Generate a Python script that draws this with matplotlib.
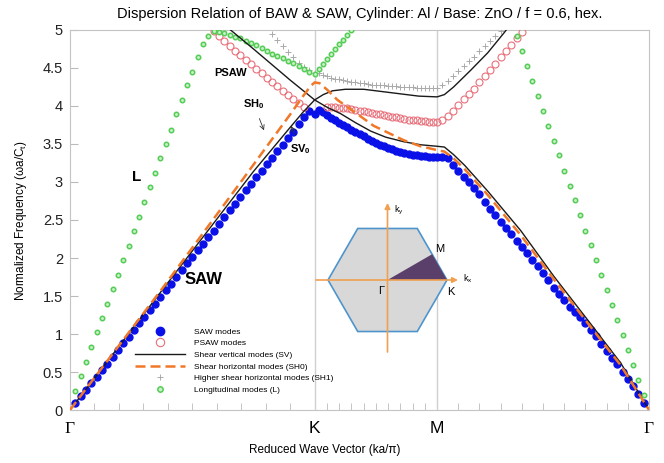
import numpy as np
import matplotlib
matplotlib.use("Agg")
import matplotlib.pyplot as plt
from matplotlib.patches import Polygon

plt.rcParams['font.family'] = ['Liberation Sans', 'DejaVu Sans']

# high-symmetry points along Gamma-K-M-Gamma (ka/pi)
K_PT = 4.0 / 3.0
M_PT = K_PT + 2.0 / 3.0
G_END = M_PT + 2.0 / np.sqrt(3.0)

# k sampling of each segment
k_gk = np.linspace(0, K_PT, 47)[1:]
k_km = np.linspace(K_PT, M_PT, 31)[1:]
k_mg = np.linspace(M_PT, G_END, 41)[1:-1]
NAN = np.nan

# SAW modes
saw_gk = [0.09, 0.18, 0.26, 0.35, 0.44, 0.53, 0.61, 0.70, 0.79, 0.88,
          0.96, 1.05, 1.14, 1.23, 1.31, 1.40, 1.49, 1.58, 1.66, 1.75,
          1.84, 1.93, 2.01, 2.10, 2.19, 2.28, 2.36, 2.45, 2.54, 2.63,
          2.71, 2.80, 2.89, 2.98, 3.06, 3.15, 3.24, 3.32, 3.41, 3.49,
          3.58, 3.66, 3.76, 3.86, 3.93, 3.90]
saw_km = [3.95, 3.92, 3.88, 3.84, 3.81, 3.78, 3.75, 3.72, 3.69, 3.66,
          3.63, 3.60, 3.57, 3.54, 3.51, 3.49, 3.47, 3.45, 3.43, 3.41,
          3.39, 3.38, 3.37, 3.36, 3.35, 3.34, 3.34, 3.33, 3.33, 3.33]
saw_mg = [3.33, 3.31, 3.22, 3.15, 3.07, 3.00, 2.92, 2.84, 2.74, 2.65,
          2.57, 2.47, 2.39, 2.31, 2.23, 2.15, 2.06, 1.98, 1.89, 1.80,
          1.71, 1.61, 1.53, 1.45, 1.36, 1.29, 1.22, 1.14, 1.05, 0.97,
          0.87, 0.78, 0.69, 0.61, 0.50, 0.41, 0.32, 0.21, 0.09]

# PSAW modes
psaw_gk = [NAN] * 26 + [4.99, 4.92, 4.85, 4.79, 4.73, 4.67, 4.61, 4.55, 4.49,
                        4.43, 4.37, 4.32, 4.26, 4.20, 4.15, 4.09, 4.04, 3.99] + [NAN] * 2
psaw_km = [NAN] * 2 + [3.99, 3.99, 3.99, 3.98, 3.98, 3.97, 3.96, 3.95, 3.94, 3.93,
                       3.92, 3.91, 3.90, 3.89, 3.88, 3.87, 3.86, 3.85, 3.84, 3.83,
                       3.82, 3.81, 3.81, 3.80, 3.80, 3.79, 3.79, 3.79]
psaw_mg = [3.81, 3.87, 3.94, 4.01, 4.09, 4.16, 4.23, 4.31, 4.39, 4.47,
           4.55, 4.64, 4.72, 4.80, 4.89, 4.97] + [NAN] * 23

# higher shear horizontal modes (SH1)
sh1_gk = [NAN] * 37 + [4.95, 4.87, 4.79, 4.71, 4.64, 4.57, 4.51, 4.47, 4.44]
sh1_km = [4.43, 4.41, 4.39, 4.37, 4.36, 4.35, 4.34, 4.33, 4.32, 4.31,
          4.30, 4.30, 4.29, 4.28, 4.28, 4.27, 4.27, 4.26, 4.26, 4.26,
          4.25, 4.25, 4.25, 4.25, 4.24, 4.24, 4.24, 4.24, 4.24, 4.24]
sh1_mg = [4.27, 4.33, 4.39, 4.46, 4.53, 4.59, 4.65, 4.72, 4.79, 4.85,
          4.92, 4.99] + [NAN] * 27

# longitudinal modes (L)
lon_gk = [0.25, 0.45, 0.63, 0.83, 1.02, 1.21, 1.40, 1.59, 1.78, 1.98,
          2.16, 2.36, 2.54, 2.74, 2.93, 3.12, 3.31, 3.50, 3.69, 3.89,
          4.08, 4.27, 4.45, 4.64, 4.81, 4.92, 4.99, 4.98, 4.96, 4.93,
          4.91, 4.89, 4.86, 4.83, 4.80, 4.76, 4.73, 4.69, 4.66, 4.63,
          4.59, 4.56, 4.52, 4.49, 4.45, 4.42]
lon_km = [4.49, 4.55, 4.62, 4.68, 4.75, 4.81, 4.87, 4.94, 5.00] + [NAN] * 21
lon_mg = [NAN] * 14 + [4.92, 4.72, 4.53, 4.33, 4.13, 3.94, 3.74, 3.54, 3.35, 3.15,
                       2.95, 2.76, 2.56, 2.36, 2.17, 1.97, 1.77, 1.58, 1.38, 1.18,
                       0.99, 0.79, 0.59, 0.40, 0.20]

# shear vertical modes (two branches), shear horizontal SH0
sv_a_k = [0, 0.5, 1.0, 1.2, 1.27, 1.333, 1.38, 1.43, 1.50, 1.60, 1.70, 1.80, 1.90,
          2.0, 2.04, 2.09, 2.183, 2.276, 2.364, 2.38]
sv_a_f = [0, 1.57, 3.14, 3.72, 3.92, 4.08, 4.15, 4.20, 4.22, 4.22, 4.19, 4.16, 4.13,
          4.12, 4.15, 4.25, 4.47, 4.70, 4.96, 5.01]
sv_b_k = [0.85, 1.0, 1.2, 1.333, 1.403, 1.474, 1.556, 1.638, 1.72, 1.818, 1.91,
          2.0, 2.04, 2.09, 2.15, 2.276, 2.456, 2.636, 2.822, 3.0, 3.155]
sv_b_f = [5.05, 4.75, 4.34, 4.08, 3.98, 3.90, 3.78, 3.67, 3.59, 3.53, 3.49,
          3.47, 3.46, 3.36, 3.22, 2.88, 2.36, 1.76, 1.18, 0.62, 0.0]
sh0_k = [0, 0.5, 0.955, 1.1, 1.2, 1.27, 1.31, 1.333, 1.36, 1.403, 1.457, 1.545,
         1.654, 1.818, 1.91, 2.0, 2.04, 2.09, 2.15, 2.276, 2.456, 2.636, 2.822, 3.0, 3.155]
sh0_f = [0, 1.59, 3.08, 3.56, 3.89, 4.13, 4.26, 4.31, 4.30, 4.21, 4.08, 3.93,
         3.74, 3.55, 3.47, 3.42, 3.40, 3.31, 3.17, 2.83, 2.30, 1.72, 1.14, 0.59, 0.0]

k_all = np.concatenate([k_gk, k_km, k_mg])
saw = np.array(saw_gk + saw_km + saw_mg)
psaw = np.array(psaw_gk + psaw_km + psaw_mg)
sh1 = np.array(sh1_gk + sh1_km + sh1_mg)
lon = np.array(lon_gk + lon_km + lon_mg)

W, H = 664, 463
fig = plt.figure(figsize=(W / 100, H / 100), dpi=100)
ax = fig.add_axes([70 / W, 1 - 410 / H, 579 / W, 380 / H])

ax.axvline(K_PT, color='#d0d0d0', lw=1, zorder=1)
ax.axvline(M_PT, color='#d0d0d0', lw=1, zorder=1)

ax.plot(k_all, saw, 'o', ms=5, color='#0a10e8', mec='#0a10e8', zorder=3, label='SAW modes')
ax.plot(k_all, psaw, 'o', ms=5, mfc='none', mec='#e8707a', mew=0.8, zorder=3, label='PSAW modes')
ax.plot(sv_a_k, sv_a_f, '-', color='#1a1a1a', lw=1.0, zorder=4, label='Shear vertical modes (SV)')
ax.plot(sv_b_k, sv_b_f, '-', color='#1a1a1a', lw=1.0, zorder=4)
ax.plot(sh0_k, sh0_f, '--', color='#f07828', lw=1.8, dashes=(4, 2), zorder=4,
        label='Shear horizontal modes (SH0)')
ax.plot(k_all, sh1, '+', ms=4, color='#aaaaaa', mew=0.7, zorder=3,
        label='Higher shear horizontal modes (SH1)')
ax.plot(k_all, lon, 'o', ms=3.2, mfc='#c8f0c8', mec='#55cc55', mew=1.1, zorder=3,
        label='Longitudinal modes (L)')

ax.set_xlim(0, G_END)
ax.set_ylim(0, 5)
ax.set_xticks([0, K_PT, M_PT, G_END])
ax.set_xticklabels(['Γ', 'K', 'M', 'Γ'])
for i, t in enumerate(ax.get_xticklabels()):
    t.set_fontsize(12.5)
    if i in (0, 3):
        t.set_fontfamily(['Liberation Serif', 'DejaVu Serif'])
ax.tick_params(axis='x', which='major', length=0, pad=8)
minor = []
for a, b in [(0, K_PT), (K_PT, M_PT), (M_PT, G_END)]:
    minor.extend(np.linspace(a, b, 11)[1:-1])
ax.set_xticks(minor, minor=True)
ax.tick_params(axis='x', which='minor', direction='in', length=5, color='#bbbbbb')

ax.set_yticks(np.arange(0, 5.01, 0.5))
ax.set_yticklabels(['0', '0.5', '1', '1.5', '2', '2.5', '3', '3.5', '4', '4.5', '5'])
ax.tick_params(axis='y', direction='in', length=5.5, color='#bbbbbb', labelsize=10.5,
               labelcolor='#222222', pad=5)
for s in ax.spines.values():
    s.set_color('#c4c4c4')

fig.text(359.5 / W, 1 - 14 / H,
         'Dispersion Relation of BAW & SAW, Cylinder: Al / Base: ZnO / f = 0.6, hex.',
         ha='center', va='center', fontsize=10.5)
fig.text(325 / W, 1 - 450 / H, 'Reduced Wave Vector (ka/π)', ha='center', va='center',
         fontsize=8.5)
fig.text(21 / W, 1 - 221 / H, 'Normalized Frequency (ωa/C$_\\mathregular{t}$)',
         ha='center', va='center', rotation=90, fontsize=8.5)

# mode labels
ax.text(0.877, 4.43, 'PSAW', fontsize=8, fontweight='bold', ha='center', va='center')
ax.text(0.725, 1.72, 'SAW', fontsize=12, fontweight='bold', ha='center', va='center')
ax.text(0.365, 3.07, 'L', fontsize=11, fontweight='bold', ha='center', va='center')
ax.annotate('SH$_\\mathregular{0}$', xy=(1.057, 3.68), xytext=(1.0, 4.03), fontsize=8,
            fontweight='bold', ha='center', va='center',
            arrowprops=dict(arrowstyle='->', color='#333333', lw=0.6, shrinkA=4, shrinkB=0))
ax.annotate('SV$_\\mathregular{0}$', xy=(1.204, 3.74), xytext=(1.258, 3.43), fontsize=8,
            fontweight='bold', ha='center', va='center',
            arrowprops=dict(arrowstyle='->', color='#333333', lw=0.6, shrinkA=4, shrinkB=0))

ax.legend(loc='upper left', bbox_to_anchor=(135 / W, 1 - 328 / H),
          bbox_transform=fig.transFigure, frameon=False, fontsize=6,
          handlelength=6.0, handletextpad=1.1, labelspacing=0.45, borderpad=0,
          borderaxespad=0, numpoints=1, markerscale=1.2)

# Brillouin zone inset (pixel units)
ax_in = fig.add_axes([300 / W, 1 - 365 / H, 180 / W, 170 / H])
ax_in.set_xlim(300, 480)
ax_in.set_ylim(365, 195)
ax_in.axis('off')
cx, cy, R = 387.5, 280.0, 59.5
ang = np.deg2rad(np.arange(0, 360, 60))
hexv = np.column_stack([cx + R * np.cos(ang), cy - R * np.sin(ang)])
ax_in.add_patch(Polygon(hexv, closed=True, fc='#d8d8d8', ec='#4f94cd', lw=1.2, zorder=1))
m_pt = (hexv[0] + hexv[1]) / 2
ax_in.add_patch(Polygon([(cx, cy), hexv[0], m_pt], closed=True, fc='#5b3f6b', ec='none', zorder=2))
arr = dict(arrowstyle='-|>', color='#f0a050', lw=1.2, mutation_scale=8, shrinkA=0, shrinkB=0)
ax_in.annotate('', xy=(458, cy), xytext=(316, cy), arrowprops=arr, zorder=3)
ax_in.annotate('', xy=(cx, 203), xytext=(cx, 352), arrowprops=arr, zorder=3)
ax_in.text(381, 291, 'Γ', fontsize=8, ha='center', va='center')
ax_in.text(451, 292, 'K', fontsize=8, ha='center', va='center')
ax_in.text(440, 249, 'M', fontsize=8, ha='center', va='center')
ax_in.text(468, 279, 'k$_\\mathregular{x}$', fontsize=6.5, ha='center', va='center')
ax_in.text(399, 210, 'k$_\\mathregular{y}$', fontsize=6.5, ha='center', va='center')

fig.savefig('out.png', dpi=100)
